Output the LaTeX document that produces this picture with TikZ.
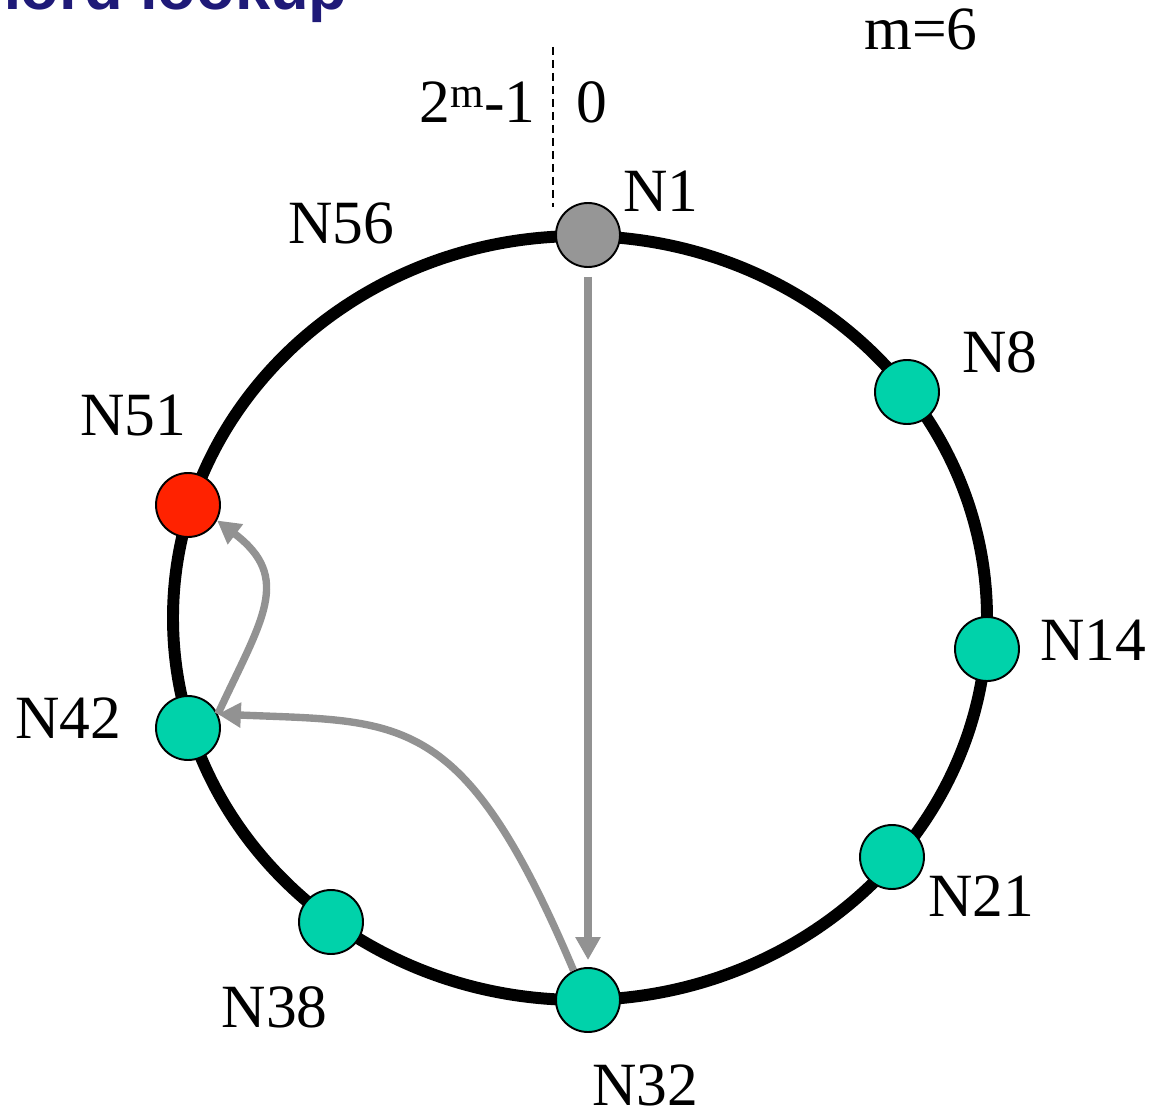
\documentclass[tikz,border=0pt]{standalone}
\usepackage{fontspec}
\setmainfont{Liberation Serif}
\newfontfamily\headfont{Liberation Sans}
\usetikzlibrary{arrows.meta}

\definecolor{peerteal}{RGB}{0,210,170}
\definecolor{targetred}{RGB}{255,34,0}
\definecolor{startgray}{RGB}{150,150,150}
\definecolor{hopgray}{RGB}{146,146,146}
\definecolor{headnavy}{RGB}{31,26,120}

\tikzset{
  peer/.style={circle,draw=black,line width=1.1pt,fill=peerteal,minimum size=1.28cm,inner sep=0pt},
  tag/.style={font=\fontsize{35}{42}\selectfont,inner sep=0pt},
  hop/.style={hopgray,line width=4.2pt,-{Triangle[length=0.46cm,width=0.48cm]}}
}

\begin{document}
\begin{tikzpicture}[x=0.02cm,y=-0.02cm]
  \useasboundingbox (0,0) rectangle (1154,1115);
  % Title, cut off by the top edge
  \node[anchor=base east,inner sep=0pt,text=headnavy,font=\headfont\bfseries\fontsize{36}{42}\selectfont] (title) at (348,10) {Chord lookup};

  % Identifier ring
  \draw[line width=6.8pt] (580,618) ellipse [x radius=407, y radius=382];

  % Where the ring wraps round
  \draw[line width=1.1pt,dash pattern=on 0.16cm off 0.1cm] (553,47) -- (553,207);
  \node[tag,anchor=base east] (wrap) at (536,123) {2\textsuperscript{m}-1};
  \node[tag,anchor=base west] (zero) at (576,123) {0};
  \node[tag,anchor=base west] (mbits) at (864,50) {m=6};

  % Peers on the ring
  \node[peer,fill=startgray] (n1) at (588,235) {};
  \node[peer] (n8) at (907,392) {};
  \node[peer] (n14) at (987,649) {};
  \node[peer] (n21) at (892,857) {};
  \node[peer] (n32) at (588,1000) {};
  \node[peer] (n38) at (331,922) {};
  \node[peer] (n42) at (188,728) {};
  \node[peer,fill=targetred] (n51) at (188,505) {};

  % Lookup hops
  \draw[hop,shorten <=0.18cm,shorten >=0.14cm] (n1) -- (n32);
  \draw[hop] (n32.116) .. controls (463,709) and (402,722) .. (n42.25);
  \draw[hop] (n42.25) .. controls (262,619) and (293,578) .. (n51.-28);

  % Peer names
  \node[tag,anchor=base west] (t1) at (623,212) {N1};
  \node[tag,anchor=base west] (t8) at (962,372) {N8};
  \node[tag,anchor=base west] (t14) at (1040,660) {N14};
  \node[tag,anchor=base west] (t21) at (928,916) {N21};
  \node[tag,anchor=base west] (t32) at (592,1105) {N32};
  \node[tag,anchor=base east] (t38) at (328,1027) {N38};
  \node[tag,anchor=base west] (t42) at (15,738) {N42};
  \node[tag,anchor=base west] (t51) at (80,435) {N51};
  \node[tag,anchor=base west] (t56) at (288,243) {N56};
\end{tikzpicture}
\end{document}
